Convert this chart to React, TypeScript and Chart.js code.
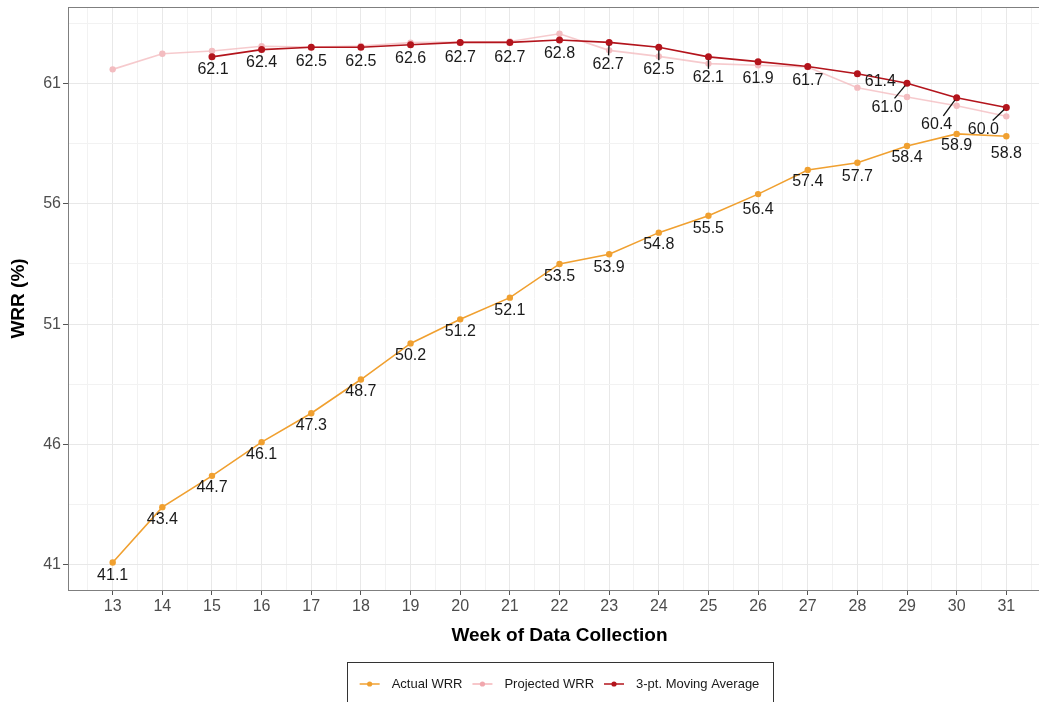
import React, { useEffect, useRef } from "react";
import { Chart, registerables } from "chart.js";

Chart.register(...registerables);

// ---------------- data ----------------
const weeks = [13, 14, 15, 16, 17, 18, 19, 20, 21, 22, 23, 24, 25, 26, 27, 28, 29, 30, 31];
const actualWRR = [41.1, 43.4, 44.7, 46.1, 47.3, 48.7, 50.2, 51.2, 52.1, 53.5, 53.9, 54.8, 55.5, 56.4, 57.4, 57.7, 58.4, 58.9, 58.8];
const projectedWRR = [61.58, 62.23, 62.34, 62.54, 62.51, 62.55, 62.69, 62.71, 62.74, 63.06, 62.37, 62.12, 61.82, 61.75, 61.68, 60.82, 60.43, 60.07, 59.63];
const maWeeks = [15, 16, 17, 18, 19, 20, 21, 22, 23, 24, 25, 26, 27, 28, 29, 30, 31];
const movingAvg = [62.1, 62.4, 62.5, 62.5, 62.6, 62.7, 62.7, 62.8, 62.7, 62.5, 62.1, 61.9, 61.7, 61.4, 61.0, 60.4, 60.0];

const xMajorTicks = [13, 14, 15, 16, 17, 18, 19, 20, 21, 22, 23, 24, 25, 26, 27, 28, 29, 30, 31];
const yMajorTicks = [41, 46, 51, 56, 61];

const seriesNames = ["Actual WRR", "Projected WRR", "3-pt. Moving Average"];
const xTitle = "Week of Data Collection";
const yTitle = "WRR (%)";

// label placement (pixel offsets from each point: dx, dy, leader line)
const actualLabelDy = [13, 12, 12, 12, 12, 12, 12, 12, 13, 13, 13, 12, 13, 15, 12, 14, 12, 12, 17];
const maLabelOffsets: [number, number, boolean][] = [
  [1, 13, false], [0, 13, false], [0, 14, false], [0, 14, false], [0, 14, false],
  [0, 15, false], [0, 15, false], [0, 14, false], [-1, 22, true], [0, 22, true],
  [0, 21, true], [0, 17, false], [0, 14, false], [23, 8, false], [-20, 24, true],
  [-20, 27, true], [-23, 22, true],
];

// ---------------- styles ----------------
const FONT = "'Liberation Sans', Arial, sans-serif";
const ORANGE = "#F0A030";
const PINK_LINE = "rgba(242,180,184,0.7)";
const PINK_POINT = "#F3BCC0";
const RED = "#B3141C";

const isMajorX = (v: number) => xMajorTicks.some((t) => Math.abs(t - v) < 1e-6);
const isMajorY = (v: number) => yMajorTicks.some((t) => Math.abs(t - v) < 1e-6);

const decorPlugin = {
  id: "decor",
  afterDatasetsDraw(chart: any) {
    const ctx = chart.ctx;
    const area = chart.chartArea;
    ctx.save();
    // top / right panel border
    ctx.strokeStyle = "#7f7f7f";
    ctx.lineWidth = 1;
    ctx.beginPath();
    ctx.moveTo(area.left, Math.round(area.top) + 0.5);
    ctx.lineTo(area.right, Math.round(area.top) + 0.5);
    ctx.moveTo(Math.round(area.right) - 0.5, area.top);
    ctx.lineTo(Math.round(area.right) - 0.5, area.bottom);
    ctx.stroke();

    ctx.font = `16px ${FONT}`;
    ctx.fillStyle = "#1a1a1a";
    ctx.textAlign = "center";
    ctx.textBaseline = "middle";

    // actual labels
    const metaA = chart.getDatasetMeta(0);
    metaA.data.forEach((pt: any, i: number) => {
      ctx.fillText(actualWRR[i].toFixed(1), pt.x, pt.y + actualLabelDy[i]);
    });

    // moving average labels
    const metaM = chart.getDatasetMeta(2);
    metaM.data.forEach((pt: any, i: number) => {
      const [dx, dy, leader] = maLabelOffsets[i];
      if (leader) {
        const t0 = 3 / Math.hypot(dx, dy);
        const t1 = 1 - 9 / Math.abs(dy);
        ctx.strokeStyle = "#111";
        ctx.lineWidth = 1.3;
        ctx.beginPath();
        ctx.moveTo(pt.x + dx * t0, pt.y + dy * t0);
        ctx.lineTo(pt.x + dx * t1, pt.y + dy * t1);
        ctx.stroke();
      }
      ctx.fillText(movingAvg[i].toFixed(1), pt.x + dx, pt.y + dy);
    });
    ctx.restore();
  },
  afterDraw(chart: any) {
    const ctx = chart.ctx;
    const area = chart.chartArea;
    const cx = (area.left + area.right) / 2;
    ctx.save();
    // axis titles
    ctx.fillStyle = "#000";
    ctx.font = `bold 19px ${FONT}`;
    ctx.textAlign = "center";
    ctx.textBaseline = "middle";
    ctx.fillText(xTitle, cx, 636);
    ctx.translate(19, (area.top + area.bottom) / 2);
    ctx.rotate(-Math.PI / 2);
    ctx.fillText(yTitle, 0, 0);
    ctx.restore();

    // legend
    ctx.save();
    ctx.strokeStyle = "#333";
    ctx.lineWidth = 1;
    const boxW = 426;
    const boxL = Math.round(cx - boxW / 2) + 0.5;
    ctx.strokeRect(boxL, 662.5, boxW, 60);
    ctx.font = `13px ${FONT}`;
    const keyW = 20, gapKT = 12, gapItem = 10;
    const colors = [
      { line: ORANGE, pt: ORANGE },
      { line: "#F4B4B8", pt: "#F1A7AD" },
      { line: RED, pt: RED },
    ];
    const widths = seriesNames.map((s) => ctx.measureText(s).width);
    const total = widths.reduce((a, b) => a + b, 0) + seriesNames.length * (keyW + gapKT) + (seriesNames.length - 1) * gapItem;
    let x = cx - total / 2;
    const y = 684;
    seriesNames.forEach((name, i) => {
      ctx.strokeStyle = colors[i].line;
      ctx.lineWidth = 1.5;
      ctx.beginPath();
      ctx.moveTo(x, y);
      ctx.lineTo(x + keyW, y);
      ctx.stroke();
      ctx.fillStyle = colors[i].pt;
      ctx.beginPath();
      ctx.arc(x + keyW / 2, y, 2.6, 0, Math.PI * 2);
      ctx.fill();
      ctx.fillStyle = "#1a1a1a";
      ctx.textAlign = "left";
      ctx.textBaseline = "middle";
      ctx.fillText(name, x + keyW + gapKT, y);
      x += keyW + gapKT + widths[i] + gapItem;
    });
    ctx.restore();
  },
};

export default function App() {
  const ref = useRef<HTMLCanvasElement | null>(null);

  useEffect(() => {
    if (!ref.current) return;
    const xTicks: number[] = [];
    for (let v = 12.5; v <= 31.5 + 1e-9; v += 0.5) xTicks.push(v);
    const yTicks: number[] = [];
    for (let v = 41; v <= 64 + 1e-9; v += 2.5) yTicks.push(v);

    const chart = new Chart(ref.current, {
      type: "line",
      data: {
        datasets: [
          {
            label: seriesNames[0],
            data: weeks.map((w, i) => ({ x: w, y: actualWRR[i] })),
            borderColor: ORANGE,
            backgroundColor: ORANGE,
            pointBackgroundColor: ORANGE,
            pointBorderWidth: 0,
            pointRadius: 3.2,
            borderWidth: 1.6,
            order: 1,
          },
          {
            label: seriesNames[1],
            data: weeks.map((w, i) => ({ x: w, y: projectedWRR[i] })),
            borderColor: PINK_LINE,
            backgroundColor: PINK_POINT,
            pointBackgroundColor: PINK_POINT,
            pointBorderWidth: 0,
            pointRadius: 3.2,
            borderWidth: 1.6,
            order: 3,
          },
          {
            label: seriesNames[2],
            data: maWeeks.map((w, i) => ({ x: w, y: movingAvg[i] })),
            borderColor: RED,
            backgroundColor: RED,
            pointBackgroundColor: RED,
            pointBorderWidth: 0,
            pointRadius: 3.5,
            borderWidth: 1.6,
            order: 2,
          },
        ],
      },
      options: {
        animation: false,
        responsive: false,
        devicePixelRatio: 1,
        layout: { padding: { top: 7, right: 11, left: 0, bottom: 0 } },
        plugins: { legend: { display: false }, tooltip: { enabled: false }, title: { display: false } },
        scales: {
          x: {
            type: "linear",
            min: 12.1,
            max: 31.9,
            afterBuildTicks: (scale: any) => {
              scale.ticks = xTicks.map((v) => ({ value: v }));
            },
            afterFit: (scale: any) => {
              scale.height = 112;
              scale.paddingLeft = 0;
              scale.paddingRight = 0;
            },
            ticks: {
              autoSkip: false,
              maxRotation: 0,
              padding: 2,
              color: "#4d4d4d",
              font: { family: FONT, size: 16 },
              callback: (v: any) => (isMajorX(Number(v)) ? String(Math.round(Number(v))) : ""),
            },
            grid: {
              color: (c: any) => (c.tick && isMajorX(c.tick.value) ? "#e8e8e8" : "#f2f2f2"),
              lineWidth: 1,
              tickLength: 5,
              tickColor: (c: any) => (c.tick && isMajorX(c.tick.value) ? "#555" : "rgba(0,0,0,0)"),
            },
            border: { color: "#7f7f7f", width: 1 },
          },
          y: {
            type: "linear",
            min: 39.96,
            max: 64.17,
            afterBuildTicks: (scale: any) => {
              scale.ticks = yTicks.map((v) => ({ value: v }));
            },
            afterFit: (scale: any) => {
              scale.width = 68;
              scale.paddingTop = 0;
              scale.paddingBottom = 0;
            },
            ticks: {
              autoSkip: false,
              padding: 2,
              color: "#4d4d4d",
              font: { family: FONT, size: 16 },
              callback: (v: any) => (isMajorY(Number(v)) ? String(Math.round(Number(v))) : ""),
            },
            grid: {
              color: (c: any) => (c.tick && isMajorY(c.tick.value) ? "#e8e8e8" : "#f2f2f2"),
              lineWidth: 1,
              tickLength: 5,
              tickColor: (c: any) => (c.tick && isMajorY(c.tick.value) ? "#555" : "rgba(0,0,0,0)"),
            },
            border: { color: "#7f7f7f", width: 1 },
          },
        },
      } as any,
      plugins: [decorPlugin],
    });
    return () => chart.destroy();
  }, []);

  return (
    <div
      style={{
        position: "fixed",
        left: 0,
        top: 0,
        width: 1039,
        height: 702,
        overflow: "hidden",
        background: "#fff",
      }}
    >
      <canvas ref={ref} width={1062} height={702} style={{ width: 1062, height: 702, display: "block" }} />
    </div>
  );
}
